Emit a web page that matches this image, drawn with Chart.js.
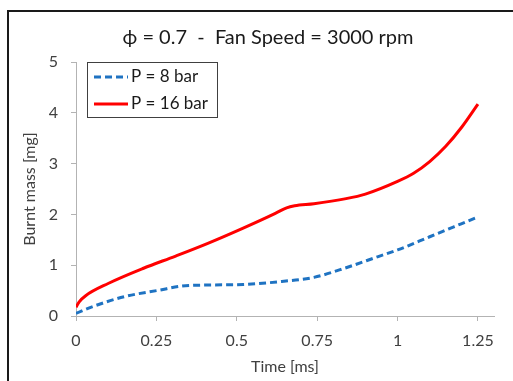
<!DOCTYPE html>
<html lang="en">
<head>
  <meta charset="UTF-8">
  <title>Burnt mass vs time</title>
  <script src="https://cdn.jsdelivr.net/npm/chart.js"></script>
  <style>
    html, body { margin: 0; padding: 0; background: #fff; }
    #wrap { width: 513px; height: 381px; position: relative; }
  </style>
</head>
<body>
  <div id="wrap"><canvas id="chart" width="513" height="381"></canvas></div>

  <script>
    // series data
    const timeP8 = [0, 0.05, 0.15, 0.26, 0.33, 0.41, 0.52, 0.64, 0.74, 0.84, 0.94, 1.0, 1.1, 1.25];
    const massP8 = [0.05, 0.18, 0.38, 0.51, 0.59, 0.61, 0.62, 0.68, 0.76, 0.95, 1.17, 1.3, 1.56, 1.95];

    const timeP16 = [0, 0.01, 0.03, 0.1, 0.21, 0.31, 0.41, 0.52, 0.62, 0.655, 0.68, 0.74, 0.84, 0.9, 1.0, 1.05, 1.1, 1.15, 1.2, 1.25];
    const massP16 = [0.17, 0.28, 0.4, 0.64, 0.94, 1.18, 1.43, 1.73, 2.02, 2.13, 2.17, 2.21, 2.31, 2.4, 2.65, 2.81, 3.04, 3.34, 3.72, 4.17];

    const seriesLabels = ['P = 8 bar', 'P = 16 bar'];
    const xTicks = [0, 0.25, 0.5, 0.75, 1, 1.25];
    const yTicks = [0, 1, 2, 3, 4, 5];

    const FONT = 'Lato, "Open Sans", sans-serif';
    const AXIS = '#b3b3b3';
    const TXT = '#404040';

    function toPoints(xs, ys) {
      return xs.map((x, i) => ({ x: x, y: ys[i] }));
    }

    // frame, title and boxed legend drawn on the canvas
    const decor = {
      id: 'decor',
      beforeDraw(chart) {
        const ctx = chart.ctx;
        ctx.save();
        ctx.fillStyle = '#fff';
        ctx.fillRect(0, 0, chart.width, chart.height);
        ctx.fillStyle = '#1a1a1a';
        ctx.fillRect(7, 10, 2, chart.height - 10);
        ctx.fillRect(7, 10, chart.width - 7, 2);
        ctx.restore();
      },
      afterDraw(chart) {
        const ctx = chart.ctx;
        ctx.save();
        ctx.fillStyle = '#1a1a1a';
        ctx.font = '20px ' + FONT;
        ctx.textAlign = 'center';
        ctx.textBaseline = 'middle';
        ctx.fillText('\u03D5 = 0.7  -  Fan Speed = 3000 rpm', 268, 38);

        // legend box
        ctx.fillStyle = '#fff';
        ctx.fillRect(88, 63, 129, 54);
        ctx.strokeStyle = '#404040';
        ctx.lineWidth = 1;
        ctx.strokeRect(87.5, 62.5, 130, 55);

        const rows = [77, 104];
        chart.data.datasets.forEach((ds, i) => {
          ctx.beginPath();
          ctx.strokeStyle = ds.borderColor;
          ctx.lineWidth = ds.borderWidth;
          ctx.setLineDash(ds.borderDash || []);
          ctx.moveTo(94, rows[i]);
          ctx.lineTo(128, rows[i]);
          ctx.stroke();
          ctx.setLineDash([]);
          ctx.fillStyle = '#1a1a1a';
          ctx.font = '17px ' + FONT;
          ctx.textAlign = 'left';
          ctx.textBaseline = 'middle';
          ctx.fillText(ds.label, 131, rows[i]);
        });
        ctx.restore();
      }
    };

    new Chart(document.getElementById('chart'), {
      type: 'line',
      data: {
        datasets: [
          {
            label: seriesLabels[0],
            data: toPoints(timeP8, massP8),
            borderColor: '#1f73c2',
            borderWidth: 3,
            borderDash: [7, 4],
            pointRadius: 0,
            cubicInterpolationMode: 'monotone'
          },
          {
            label: seriesLabels[1],
            data: toPoints(timeP16, massP16),
            borderColor: '#ff0000',
            borderWidth: 3,
            pointRadius: 0,
            cubicInterpolationMode: 'monotone'
          }
        ]
      },
      options: {
        responsive: false,
        animation: false,
        layout: { padding: { top: 62, right: 19, left: 0, bottom: 0 } },
        plugins: {
          legend: { display: false },
          title: { display: false },
          tooltip: { enabled: false }
        },
        scales: {
          x: {
            type: 'linear',
            min: 0,
            max: 1.3,
            afterBuildTicks(scale) {
              scale.ticks = xTicks.map(v => ({ value: v }));
            },
            afterFit(scale) { scale.height = 65; },
            grid: { drawOnChartArea: false, drawTicks: true, tickLength: 5, color: AXIS },
            border: { display: true, color: AXIS, width: 1 },
            ticks: {
              color: TXT,
              font: { family: FONT, size: 16 },
              padding: 10,
              maxRotation: 0,
              callback: v => String(v)
            },
            title: {
              display: true,
              text: 'Time [ms]',
              color: TXT,
              font: { family: FONT, size: 16 },
              padding: { top: 0, bottom: 5 }
            }
          },
          y: {
            min: 0,
            max: 5,
            afterBuildTicks(scale) {
              scale.ticks = yTicks.map(v => ({ value: v }));
            },
            afterFit(scale) { scale.width = 76; },
            grid: { drawOnChartArea: false, drawTicks: true, tickLength: 5, color: AXIS },
            border: { display: true, color: AXIS, width: 1 },
            ticks: {
              color: TXT,
              font: { family: FONT, size: 16 },
              padding: 13
            },
            title: {
              display: true,
              text: 'Burnt mass [mg]',
              color: TXT,
              font: { family: FONT, size: 16 },
              padding: { top: 20, bottom: 0 }
            }
          }
        }
      },
      plugins: [decor]
    });
  </script>
</body>
</html>
